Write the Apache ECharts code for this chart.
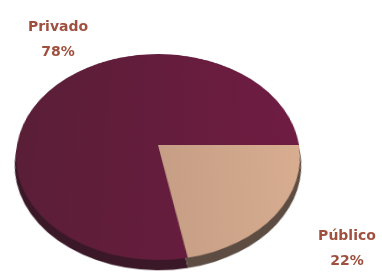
<!DOCTYPE html>
<html>
<head>
<meta charset="utf-8">
<script src="https://cdn.jsdelivr.net/npm/echarts@6/dist/echarts.min.js"></script>
<style>
  html, body { margin: 0; padding: 0; background: #fff; overflow: hidden; }
  .wrap { position: relative; width: 382px; height: 272px; overflow: hidden; }
  /* pie drawn as a flat circle, then tilted back to get the 3D look */
  .pie {
    position: absolute;
    left: -42px;
    top: -55px;
    width: 400px;
    height: 400px;
    transform-origin: 200px 200px;
    transform: perspective(838px) rotateX(43.9deg);
  }
  .labels { position: absolute; left: 0; top: 0; width: 382px; height: 272px; }
</style>
</head>
<body>
<div class="wrap">
  <div class="pie" id="pie"></div>
  <div class="labels" id="labels"></div>
</div>
<script>
// 数据
const categories = ["Privado", "Público"];
const values = [78, 22];

const faceColors = [
  new echarts.graphic.LinearGradient(0, 0, 1, 0, [
    { offset: 0, color: "#5a1e37" },
    { offset: 1, color: "#6f1c42" },
  ]),
  new echarts.graphic.LinearGradient(0, 0, 1, 0, [
    { offset: 0, color: "#c69e85" },
    { offset: 1, color: "#d8ad90" },
  ]),
];
const rimColors = ["#3a1828", "#5c4c42"];

const pieData = (colors) =>
  categories.map((name, i) => ({
    name,
    value: values[i],
    itemStyle: { color: colors[i] },
  }));

const pieChart = echarts.init(document.getElementById("pie"));
pieChart.setOption({
  animation: false,
  series: [
    {
      // 侧面（厚度）
      type: "pie",
      center: [200, 211],
      radius: [0, 141],
      startAngle: 280.8,
      silent: true,
      label: { show: false },
      labelLine: { show: false },
      data: pieData(rimColors),
    },
    {
      // 顶面
      type: "pie",
      center: [200, 200],
      radius: [0, 141],
      startAngle: 280.8,
      silent: true,
      label: { show: false },
      labelLine: { show: false },
      data: pieData(faceColors),
    },
  ],
});

// 标签
const labelPos = [
  [58, 40],
  [347, 249],
];
const labelChart = echarts.init(document.getElementById("labels"));
labelChart.setOption({
  animation: false,
  graphic: categories.map((name, i) => ({
    type: "text",
    x: labelPos[i][0],
    y: labelPos[i][1],
    style: {
      text: name + "\n" + values[i] + "%",
      fill: "#a0503f",
      font: "bold 14px 'DejaVu Sans'",
      lineHeight: 25,
      align: "center",
      verticalAlign: "middle",
    },
  })),
});
</script>
</body>
</html>
